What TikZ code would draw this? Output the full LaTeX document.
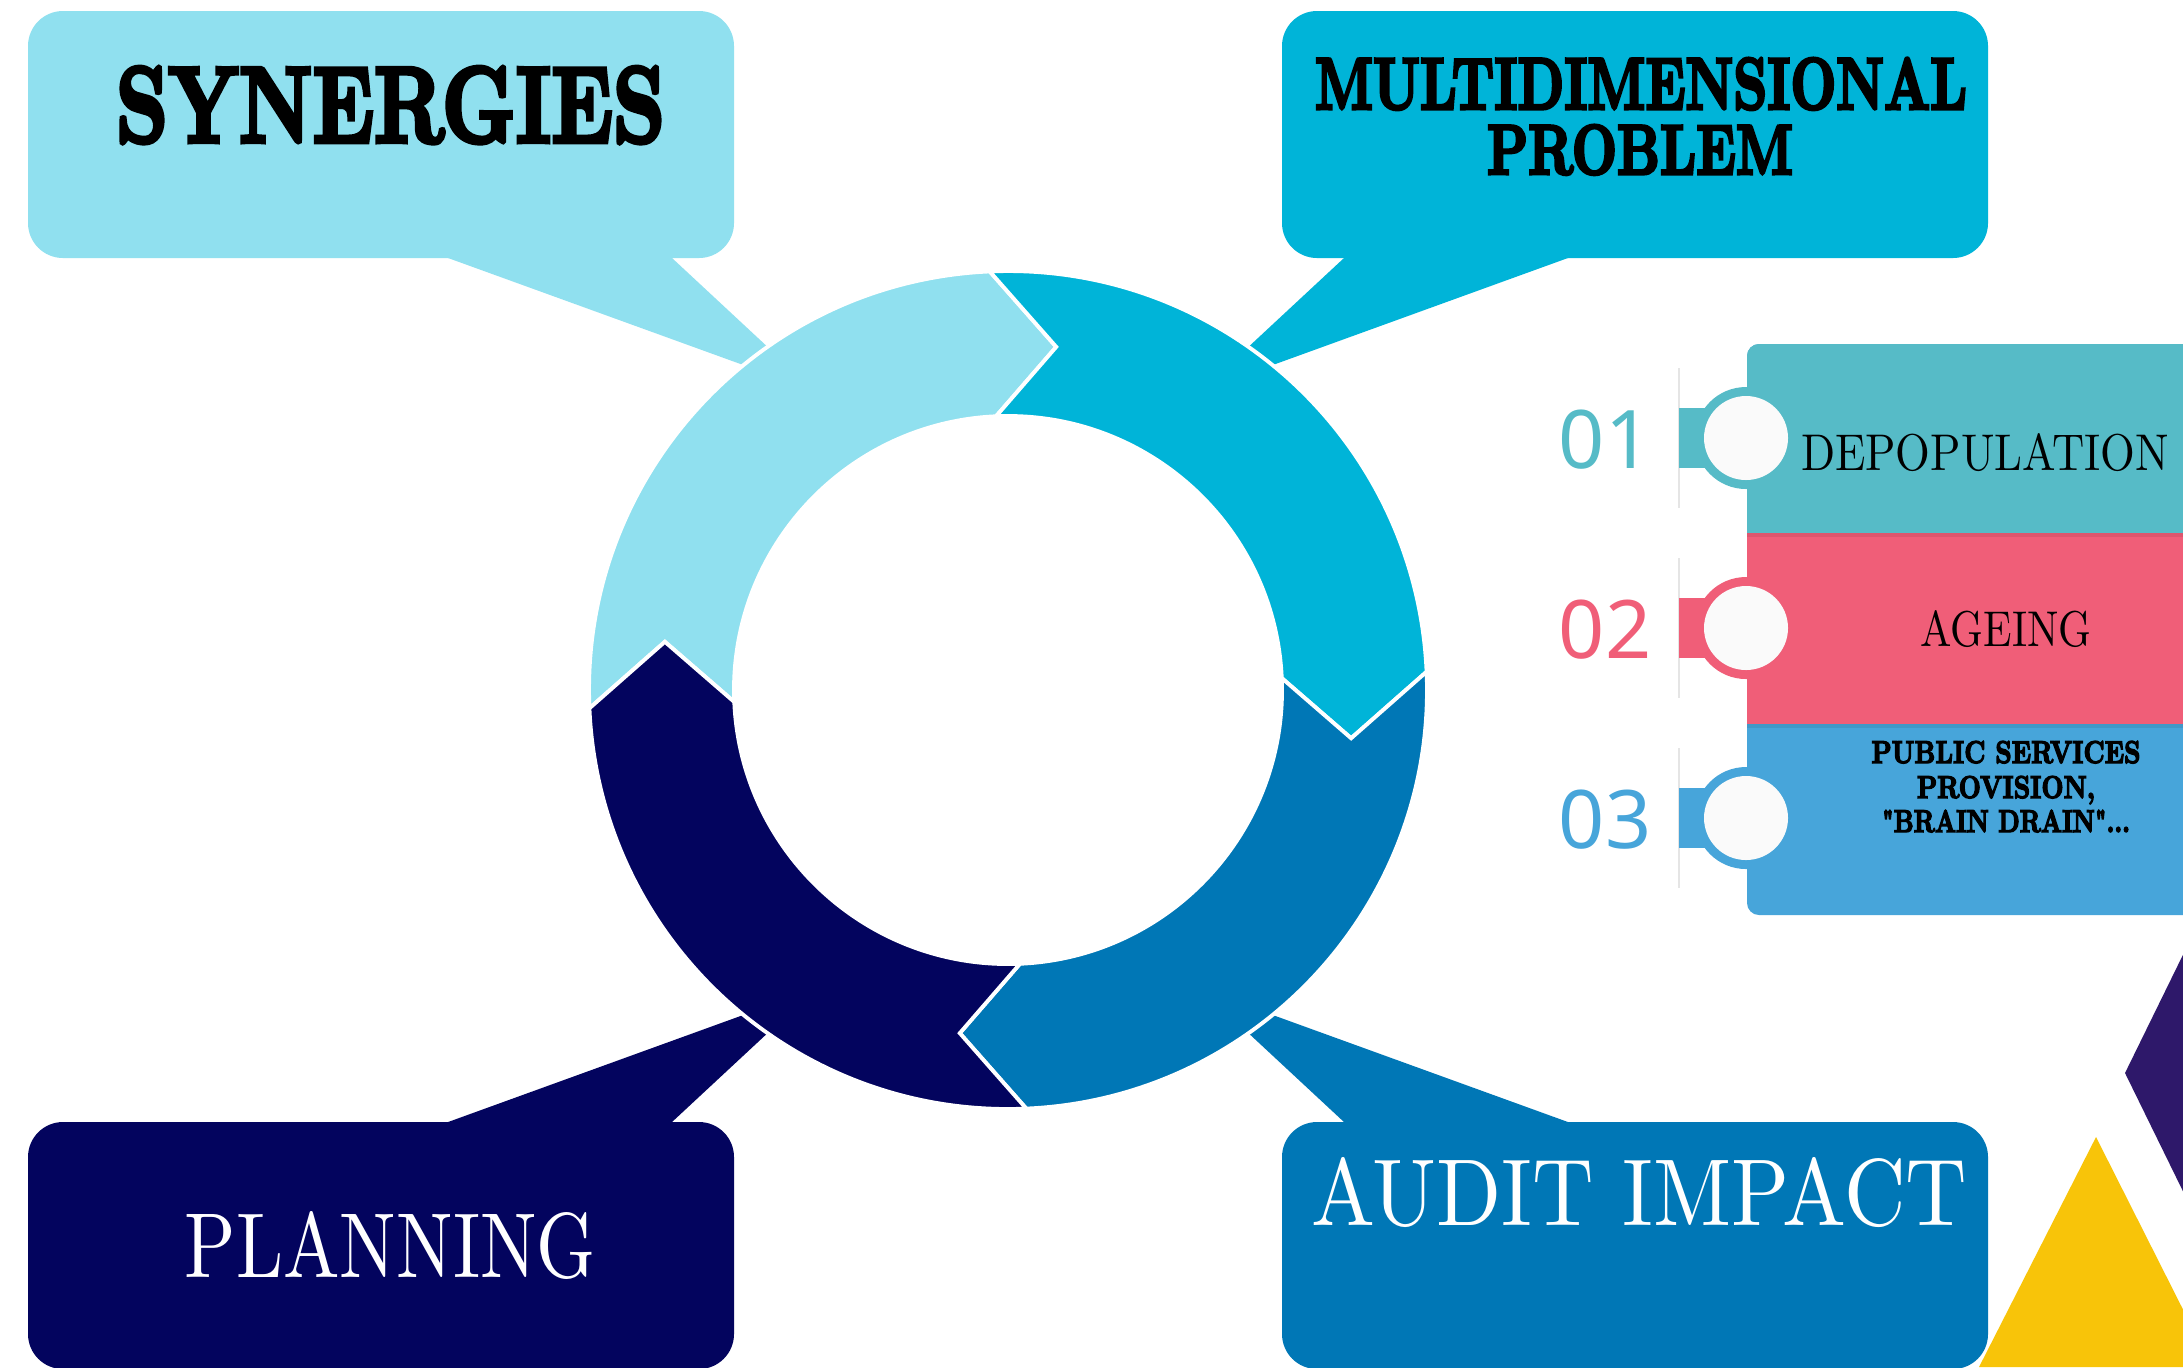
\documentclass[tikz,border=0pt]{standalone}
\usepackage{fontspec}
\usepackage{graphicx}
\newfontfamily\numfont{Noto Sans}

\definecolor{synergy}{HTML}{90E0EF}
\definecolor{problem}{HTML}{00B4D8}
\definecolor{audit}{HTML}{0077B6}
\definecolor{planning}{HTML}{03045E}
\definecolor{bandone}{HTML}{56BBC7}
\definecolor{bandtwo}{HTML}{F05E78}
\definecolor{bandthree}{HTML}{47A5DA}
\definecolor{deco}{HTML}{2E186A}
\definecolor{gold}{HTML}{F8C409}

% squeeze a label to a given width and cap height
\newcommand{\fitto}[3]{\resizebox{#1}{#2}{#3}}
% bold caps with an extra outline stroke
\newcommand{\heavy}[1]{{\bfseries\special{pdf:literal direct 2 Tr 0.45 w}#1\special{pdf:literal direct 0 Tr}}}

\begin{document}
\begin{tikzpicture}[
  ringgap/.style={draw=white, line width=1.1pt, line join=miter},
  callout/.style={rounded corners=0.35cm},
  txt/.style={anchor=base, inner sep=0pt},
  num/.style={inner sep=0pt, font=\numfont\fontsize{23}{23}\selectfont},
]
\clip (0,0) rectangle (21.83,-13.67);
\fill[white] (0,0) rectangle (21.83,-13.67);

% speech boxes and their tails
\fill[synergy] (4.26,-2.5) -- (6.634,-2.5) -- (8.15,-3.91) -- cycle;
\fill[synergy, callout] (0.28,-0.11) rectangle (7.34,-2.58);

\fill[problem] (15.90,-2.5) -- (13.526,-2.5) -- (12.01,-3.91) -- cycle;
\fill[problem, callout] (12.82,-0.11) rectangle (19.88,-2.58);

\fill[planning] (4.26,-11.30) -- (6.634,-11.30) -- (8.15,-9.89) -- cycle;
\fill[planning, callout] (0.28,-11.22) rectangle (7.34,-13.69);

\fill[audit] (15.90,-11.30) -- (13.526,-11.30) -- (12.01,-9.89) -- cycle;
\fill[audit, callout] (12.82,-11.22) rectangle (19.88,-13.69);

\node[txt] (synergies) at (3.905,-1.42) {\fitto{5.49cm}{0.75cm}{\heavy{SYNERGIES}}};
\node[txt] (multi) at (16.41,-1.09) {\fitto{6.52cm}{0.51cm}{\heavy{MULTIDIMENSIONAL}}};
\node[txt] (problem) at (16.40,-1.74) {\fitto{3.06cm}{0.49cm}{\heavy{PROBLEM}}};
\node[txt, white] (plan) at (3.905,-12.77) {\fitto{4.11cm}{0.66cm}{PLANNING}};
\node[txt, white] (impact) at (16.39,-12.25) {\fitto{6.56cm}{0.68cm}{AUDIT IMPACT}};

% the cycle of four arrows
\begin{scope}[shift={(10.08,-6.90)}]
\fill[synergy, ringgap] (182.5:4.19) arc[start angle=182.5, end angle=92.5, radius=4.19]
  -- (82:3.465) -- (92.5:2.74) arc[start angle=92.5, end angle=182.5, radius=2.74]
  -- (172:3.465) -- cycle;
\fill[problem, ringgap] (92.5:4.19) arc[start angle=92.5, end angle=2.5, radius=4.19]
  -- (-8:3.465) -- (2.5:2.74) arc[start angle=2.5, end angle=92.5, radius=2.74]
  -- (82:3.465) -- cycle;
\fill[audit, ringgap] (2.5:4.19) arc[start angle=2.5, end angle=-87.5, radius=4.19]
  -- (-98:3.465) -- (-87.5:2.74) arc[start angle=-87.5, end angle=2.5, radius=2.74]
  -- (-8:3.465) -- cycle;
\fill[planning, ringgap] (-87.5:4.19) arc[start angle=-87.5, end angle=-177.5, radius=4.19]
  -- (-188:3.465) -- (-177.5:2.74) arc[start angle=-177.5, end angle=-87.5, radius=2.74]
  -- (-98:3.465) -- cycle;
\end{scope}

% numbered list
\fill[bandthree, rounded corners=0.12cm] (17.47,-3.44) rectangle (22.3,-9.15);
\fill[bandone, rounded corners=0.12cm] (17.47,-3.44) rectangle (22.3,-6.0);
\fill[bandtwo] (17.47,-5.33) rectangle (22.3,-7.24);
\fill[black, opacity=0.08] (17.47,-5.33) rectangle (22.3,-5.37);
\fill[black, opacity=0.08] (17.47,-7.24) rectangle (22.3,-7.28);

\draw[black!10, line width=0.6pt] (16.79,-3.68) -- (16.79,-5.08);
\fill[bandone] (16.79,-4.08) rectangle (17.46,-4.68);
\fill[bandone] (17.46,-4.38) circle (0.51);
\fill[black!2] (17.46,-4.38) circle (0.42);

\draw[black!10, line width=0.6pt] (16.79,-5.58) -- (16.79,-6.98);
\fill[bandtwo] (16.79,-5.98) rectangle (17.46,-6.58);
\fill[bandtwo] (17.46,-6.28) circle (0.51);
\fill[black!2] (17.46,-6.28) circle (0.42);

\draw[black!10, line width=0.6pt] (16.79,-7.48) -- (16.79,-8.88);
\fill[bandthree] (16.79,-7.88) rectangle (17.46,-8.48);
\fill[bandthree] (17.46,-8.18) circle (0.51);
\fill[black!2] (17.46,-8.18) circle (0.42);

\node[num, bandone] (numone) at (16.05,-4.40) {01};
\node[num, bandtwo] (numtwo) at (16.05,-6.30) {02};
\node[num, bandthree] (numthree) at (16.05,-8.20) {03};

\node[txt] (depop) at (19.85,-4.70) {\fitto{3.68cm}{0.37cm}{DEPOPULATION}};
\node[txt] (ageing) at (20.06,-6.46) {\fitto{1.71cm}{0.36cm}{AGEING}};
\node[txt] (public) at (20.06,-7.63) {\fitto{2.69cm}{0.22cm}{\heavy{PUBLIC SERVICES}}};
\node[txt] (provision) at (20.06,-7.98) {\fitto{1.78cm}{0.22cm}{\heavy{PROVISION,}}};
\node[txt] (drain) at (20.06,-8.32) {\fitto{2.48cm}{0.22cm}{\heavy{\textquotedbl BRAIN DRAIN\textquotedbl...}}};

% corner shapes
\fill[deco] (21.25,-10.73) -- (22.0,-9.20) -- (22.0,-12.26) -- cycle;
\fill[gold] (20.96,-11.37) -- (19.79,-13.67) -- (22.12,-13.67) -- cycle;
\end{tikzpicture}
\end{document}
